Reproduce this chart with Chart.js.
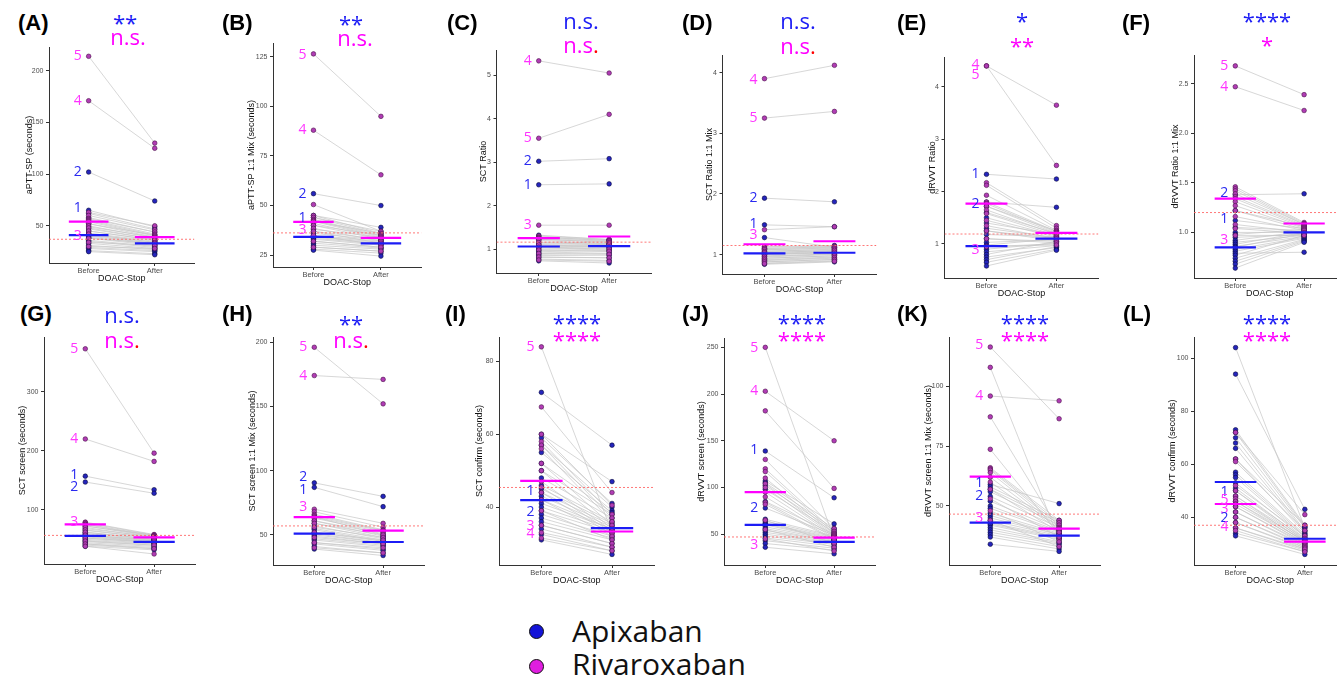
<!DOCTYPE html>
<html>
<head>
<meta charset="utf-8">
<script src="https://cdn.jsdelivr.net/npm/chart.js@4.4.1/dist/chart.umd.min.js"></script>
<style>
  html, body { margin: 0; padding: 0; background: #fff; }
  body { width: 1337px; height: 680px; position: relative; overflow: hidden; }
  canvas { position: absolute; }
  .tag { position: absolute; font: bold 22px 'Liberation Sans', Arial, sans-serif; line-height: 1; color: #000; }
  .sig { position: absolute; font: 22px 'Open Sans', sans-serif; line-height: 1; white-space: nowrap; transform: translateX(-50%); }
  .lg-dot { position: absolute; width: 13px; height: 13px; border-radius: 50%; border: 1.5px solid #111; }
  .lg-txt { position: absolute; font: 30px 'Open Sans', sans-serif; line-height: 1; color: #111; }
</style>
</head>
<body>
<script>
// ---- data (values at Before / After, per patient) ----

// (A) aPTT-SP
const A_apixBefore = [102, 65, 62, 58, 52, 49, 47, 45, 43, 42, 41, 40, 39, 38, 36, 35, 33, 31, 29, 28, 26, 25];
const A_apixAfter  = [74, 49, 47, 44, 41, 39, 37, 36, 35, 34, 33, 33, 32, 31, 30, 29, 28, 27, 26, 25, 23, 22];
const A_rivaBefore = [214, 171, 63, 60, 57, 56, 55, 54, 52, 50, 48, 45, 42, 38, 34, 30];
const A_rivaAfter  = [130, 125, 50, 46, 44, 42, 41, 40, 39, 38, 37, 36, 34, 33, 31, 28];
const A_medApix = [41, 33];
const A_medRiva = [54, 39];
const A_ref = 37;
const A_range = [14, 223];
const A_ticks = ['50', '100', '150', '200'];
const A_labels = [['5', 214, 'r'], ['4', 171, 'r'], ['2', 102, 'a'], ['1', 67, 'a'], ['3', 40, 'r']];
const A_sig = ['**', 'n.s.', false];

// (B) aPTT-SP 1:1 Mix
const B_apixBefore = [56, 45, 44, 42, 40, 38, 37, 36, 35, 34.5, 34, 33.5, 33, 32, 31, 30, 29, 28, 27.5];
const B_apixAfter  = [50, 39, 37, 36, 35, 34, 33, 32.5, 32, 31.5, 31, 30.5, 30, 29, 28.5, 28, 27, 26, 24.5];
const B_rivaBefore = [126.5, 88, 50.5, 45, 44, 43, 42.5, 42, 41, 40, 38.5, 37, 35, 32, 29];
const B_rivaAfter  = [95, 65.5, 37, 36, 35.5, 35, 34.5, 34, 33.5, 33, 32, 31, 30, 29, 27];
const B_medApix = [34.2, 30.9];
const B_medRiva = [41.8, 33.7];
const B_ref = 36.2;
const B_range = [19, 132];
const B_ticks = ['25', '50', '75', '100', '125'];
const B_labels = [['5', 126, 'r'], ['4', 88, 'r'], ['2', 56, 'a'], ['1', 43.5, 'a'], ['3', 37.5, 'r']];
const B_sig = ['**', 'n.s.', false];

// (C) SCT Ratio
const C_apixBefore = [3.02, 2.48, 1.32, 1.28, 1.22, 1.16, 1.12, 1.09, 1.07, 1.05, 1.03, 1.0, 0.97, 0.94, 0.91, 0.88, 0.85, 0.81, 0.77, 0.73];
const C_apixAfter  = [3.08, 2.5, 1.22, 1.2, 1.17, 1.14, 1.12, 1.1, 1.08, 1.07, 1.05, 1.03, 1.0, 0.97, 0.94, 0.9, 0.86, 0.8, 0.74, 0.68];
const C_rivaBefore = [5.33, 3.55, 1.55, 1.3, 1.27, 1.25, 1.23, 1.2, 1.15, 1.1, 1.04, 0.98, 0.9, 0.82, 0.75];
const C_rivaAfter  = [5.05, 4.1, 1.55, 1.22, 1.2, 1.18, 1.15, 1.12, 1.1, 1.05, 1.0, 0.95, 0.88, 0.8, 0.72];
const C_medApix = [1.06, 1.07];
const C_medRiva = [1.25, 1.29];
const C_ref = 1.16;
const C_range = [0.45, 5.58];
const C_ticks = ['1', '2', '3', '4', '5'];
const C_labels = [['4', 5.33, 'r'], ['5', 3.55, 'r'], ['2', 3.02, 'a'], ['1', 2.48, 'a'], ['3', 1.55, 'r']];
const C_sig = ['n.s.', 'n.s.', true];

// (D) SCT Ratio 1:1 Mix
const D_apixBefore = [1.93, 1.49, 1.28, 1.13, 1.1, 1.08, 1.06, 1.04, 1.02, 1.01, 1.0, 0.98, 0.96, 0.94, 0.92, 0.9, 0.88, 0.86, 0.84];
const D_apixAfter  = [1.87, 1.46, 1.12, 1.15, 1.12, 1.1, 1.08, 1.06, 1.05, 1.04, 1.03, 1.01, 1.0, 0.98, 0.96, 0.94, 0.92, 0.9, 0.88];
const D_rivaBefore = [3.9, 3.25, 1.41, 1.12, 1.1, 1.08, 1.05, 1.03, 1.0, 0.97, 0.94, 0.91, 0.88, 0.85];
const D_rivaAfter  = [4.12, 3.36, 1.46, 1.14, 1.13, 1.11, 1.09, 1.07, 1.04, 1.01, 0.98, 0.95, 0.92, 0.89];
const D_medApix = [1.02, 1.03];
const D_medRiva = [1.17, 1.22];
const D_ref = 1.15;
const D_range = [0.68, 4.29];
const D_ticks = ['1', '2', '3', '4'];
const D_labels = [['4', 3.88, 'r'], ['5', 3.25, 'r'], ['2', 1.93, 'a'], ['1', 1.5, 'a'], ['3', 1.33, 'r']];
const D_sig = ['n.s.', 'n.s.', true];

// (E) dRVVT Ratio
const E_apixBefore = [2.33, 1.8, 1.72, 1.6, 1.5, 1.4, 1.3, 1.25, 1.18, 1.1, 1.03, 0.98, 0.95, 0.9, 0.85, 0.8, 0.75, 0.7, 0.65, 0.58];
const E_apixAfter  = [2.24, 1.7, 1.25, 1.2, 1.15, 1.18, 1.12, 1.1, 1.14, 1.05, 1.08, 1.1, 1.0, 1.02, 0.97, 1.05, 0.93, 0.95, 0.9, 0.88];
const E_rivaBefore = [4.4, 4.4, 2.17, 2.12, 1.93, 1.8, 1.77, 1.72, 1.65, 1.58, 1.45, 1.35, 1.25, 1.1, 0.95];
const E_rivaAfter  = [3.65, 2.5, 1.35, 1.3, 1.26, 1.24, 1.22, 1.2, 1.18, 1.16, 1.13, 1.1, 1.06, 1.02, 0.98];
const E_medApix = [0.96, 1.1];
const E_medRiva = [1.77, 1.21];
const E_ref = 1.19;
const E_range = [0.35, 4.57];
const E_ticks = ['1', '2', '3', '4'];
const E_labels = [['4', 4.41, 'r'], ['5', 4.22, 'r'], ['1', 2.33, 'a'], ['2', 1.76, 'a'], ['3', 0.88, 'r']];
const E_sig = ['*', '**', false];

// (F) dRVVT Ratio 1:1 Mix
const F_apixBefore = [1.38, 1.22, 1.12, 1.05, 1.0, 0.98, 0.95, 0.92, 0.9, 0.88, 0.86, 0.85, 0.83, 0.81, 0.79, 0.77, 0.74, 0.71, 0.68, 0.64];
const F_apixAfter  = [1.39, 1.06, 1.04, 1.02, 1.0, 1.03, 0.98, 1.01, 0.97, 1.0, 0.96, 0.99, 0.95, 0.94, 0.8, 0.97, 0.93, 0.92, 0.91, 0.9];
const F_rivaBefore = [2.68, 2.47, 1.46, 1.44, 1.42, 1.39, 1.36, 1.34, 1.31, 1.27, 1.22, 1.16, 1.08, 1.04, 0.97];
const F_rivaAfter  = [2.39, 2.23, 1.1, 1.09, 1.08, 1.08, 1.07, 1.06, 1.05, 1.04, 1.03, 1.02, 1.0, 0.99, 0.97];
const F_medApix = [0.85, 1.0];
const F_medRiva = [1.34, 1.09];
const F_ref = 1.2;
const F_range = [0.54, 2.79];
const F_ticks = ['1.0', '1.5', '2.0', '2.5'];
const F_labels = [['5', 2.68, 'r'], ['4', 2.47, 'r'], ['2', 1.4, 'a'], ['1', 1.135, 'a'], ['3', 0.92, 'r']];
const F_sig = ['****', '*', false];

// (G) SCT screen
const G_apixBefore = [157, 147, 72, 68, 65, 62, 60, 58, 56, 55, 54, 52, 50, 48, 46, 44, 42, 40, 38];
const G_apixAfter  = [134, 128, 57, 54, 52, 50, 49, 48, 47, 46, 45, 44, 43, 42, 40, 38, 36, 34, 32];
const G_rivaBefore = [373, 220, 79, 78, 76, 75, 73, 70, 66, 62, 57, 52, 47, 42, 38];
const G_rivaAfter  = [196, 182, 58, 57, 56, 55, 54, 53, 52, 50, 48, 45, 40, 34, 25];
const G_medApix = [55.6, 45.4];
const G_medRiva = [75.2, 53.2];
const G_ref = 56.6;
const G_range = [8, 393];
const G_ticks = ['100', '200', '300'];
const G_labels = [['5', 372, 'r'], ['4', 220, 'r'], ['1', 159, 'a'], ['2', 138, 'a'], ['3', 80, 'r']];
const G_sig = ['n.s.', 'n.s.', true];

// (H) SCT screen 1:1 Mix
const H_apixBefore = [90.5, 87, 64, 61, 59, 57, 55, 54, 52, 51, 50, 49, 47, 46, 44, 43, 41, 39];
const H_apixAfter  = [80, 72, 50, 49, 48, 47, 46, 45, 45, 44, 44, 43, 42, 41, 39, 38, 36, 34];
const H_rivaBefore = [196, 174, 70, 68, 66, 65, 64, 63, 61, 59, 56, 52, 48, 44, 40];
const H_rivaAfter  = [152, 171, 59, 56, 54, 53.5, 53, 52, 51, 50, 48, 46, 43, 40, 36];
const H_medApix = [51, 44.5];
const H_medRiva = [63.8, 53.4];
const H_ref = 57;
const H_range = [26.6, 204];
const H_ticks = ['50', '100', '150', '200'];
const H_labels = [['5', 196, 'r'], ['4', 174, 'r'], ['2', 95, 'a'], ['1', 85, 'a'], ['3', 71.6, 'r']];
const H_sig = ['**', 'n.s.', true];

// (I) SCT confirm
const I_apixBefore = [71.5, 60, 59, 57, 55, 52, 50, 48, 46, 45, 44, 43, 42, 41, 40, 39, 38, 37, 36, 35, 34, 32.5, 31];
const I_apixAfter  = [57, 47, 41, 40, 39, 38.5, 38, 37, 36, 35.5, 35, 34.5, 34, 34, 33.5, 33, 32, 31.5, 31, 30, 29, 28, 27];
const I_rivaBefore = [84, 67.5, 60, 58, 57, 56, 52, 50, 47, 45.5, 44, 42, 39, 35, 33, 31.5];
const I_rivaAfter  = [33, 44, 40.5, 38, 37, 36, 35, 34, 33.5, 33, 32.5, 32, 31, 30, 29, 28];
const I_medApix = [41.9, 34.2];
const I_medRiva = [47.2, 33.3];
const I_ref = 45.4;
const I_range = [24.1, 86.7];
const I_ticks = ['40', '60', '80'];
const I_labels = [['5', 84, 'r'], ['1', 44.3, 'a'], ['2', 38.6, 'a'], ['3', 34.7, 'r'], ['4', 32.6, 'r']];
const I_sig = ['****', '****', false];

// (J) dRVVT screen
const J_apixBefore = [139, 107, 105, 102, 98, 85, 78, 66, 64, 62, 61, 60, 58, 56, 54, 52, 50, 48, 46, 43, 40, 36];
const J_apixAfter  = [89, 61, 56, 54, 52, 50, 49, 48, 47, 46, 45, 44, 43, 42, 42, 41, 40, 39, 37, 35, 33, 29];
const J_rivaBefore = [250, 203, 182, 130, 120, 117, 110, 104, 100, 95, 90, 84, 82, 65, 55, 45];
const J_rivaAfter  = [45, 150, 99, 56, 53, 51, 50, 49, 48, 47, 46, 45, 44, 40, 36, 32];
const J_medApix = [60, 41.8];
const J_medRiva = [95, 46.4];
const J_ref = 47;
const J_range = [17, 260];
const J_ticks = ['50', '100', '150', '200', '250'];
const J_labels = [['5', 249.5, 'r'], ['4', 203, 'r'], ['1', 139.6, 'a'], ['2', 78.5, 'a'], ['3', 38.5, 'r']];
const J_sig = ['****', '****', false];

// (K) dRVVT screen 1:1 Mix
const K_apixBefore = [59, 58, 57, 56, 54, 52, 50, 49, 47, 46, 45, 44, 43, 42.5, 42, 41, 40, 39, 38, 37, 34];
const K_apixAfter  = [51, 44, 43, 42, 41, 40, 39.5, 39, 38.5, 38, 38, 37.5, 37, 36.5, 36, 35, 34.5, 34, 33, 32, 31];
const K_rivaBefore = [116.5, 108, 96, 87.3, 73.7, 66, 65.5, 65, 64, 62, 60, 57, 53, 48, 44];
const K_rivaAfter  = [86.5, 36, 94, 40, 38, 44, 43, 42, 41, 40.5, 40, 39, 37, 35, 33];
const K_medApix = [43, 37.6];
const K_medRiva = [62.3, 40.5];
const K_ref = 46.6;
const K_range = [25.3, 120.7];
const K_ticks = ['50', '75', '100'];
const K_labels = [['5', 117.2, 'r'], ['4', 96.1, 'r'], ['1', 59.8, 'a'], ['2', 54.2, 'a'], ['3', 44.8, 'r']];
const K_sig = ['****', '****', false];

// (L) dRVVT confirm
const L_apixBefore = [104, 94, 73, 72, 70, 68, 66, 62, 57, 56, 55, 53, 51, 50, 48, 46, 44, 42, 40, 38, 36, 34, 33];
const L_apixAfter  = [36, 43, 37, 36.5, 36, 35, 34.5, 34, 33.5, 33, 32.5, 32, 31.5, 31, 30.5, 30, 29.5, 29, 28.5, 28, 27.5, 27, 26];
const L_rivaBefore = [72, 62, 61, 52, 50, 48, 47, 46, 45, 44, 42, 40, 38, 36, 35];
const L_rivaAfter  = [41, 37, 35, 33, 32, 31.5, 31, 31, 30.5, 30, 29.5, 29, 28.5, 28, 27];
const L_medApix = [53.3, 31.9];
const L_medRiva = [45, 30.8];
const L_ref = 37;
const L_range = [22, 108];
const L_ticks = ['40', '60', '80', '100'];
const L_labels = [['1', 49.7, 'a'], ['5', 46.5, 'r'], ['3', 43, 'r'], ['2', 39.6, 'a'], ['4', 36.5, 'r']];
const L_sig = ['****', '****', false];

const xLabels = ['Before', 'After'];
const xTitle = 'DOAC-Stop';
const legendNames = ['Apixaban', 'Rivaroxaban'];

// ---- styling ----
const C = {
  apixDot: '#2525bc',
  apixRim: '#0a0a3c',
  rivaDot: '#b03cb4',
  rivaRim: '#4a104a',
  apix: '#1c1cf5',
  riva: '#ff00ff',
  pair: '#c6c6c6',
  ref: '#ff6a6a',
  axis: '#333333',
  tick: '#4d4d4d',
};
const AX_FONT = "'Liberation Sans', Arial, sans-serif";
const PT = 10;  // top padding inside canvas
const PR = 2;   // right padding inside canvas
const XH = 21;  // height of x axis block

// layout: [axis x, plot top, plot right, plot bottom], y axis block width,
// panel letter position, significance centres
const panels = [
  { tag: 'A', title: 'aPTT-SP (seconds)', p: 'A', box: [49, 47, 197, 263], yw: 25, tagXY: [18, 12], sigXY: [125, 18, 128, 38.5] },
  { tag: 'B', title: 'aPTT-SP 1:1 Mix (seconds)', p: 'B', box: [273, 43, 424, 267], yw: 27, tagXY: [222, 12], sigXY: [351, 19, 355, 40] },
  { tag: 'C', title: 'SCT Ratio', p: 'C', box: [496, 50, 653, 273], yw: 18.5, tagXY: [447, 12], sigXY: [581, 23, 581, 47] },
  { tag: 'D', title: 'SCT Ratio 1:1 Mix', p: 'D', box: [722, 55, 878, 274], yw: 18.5, tagXY: [682, 12], sigXY: [798, 23, 798, 48] },
  { tag: 'E', title: 'dRVVT Ratio', p: 'E', box: [944, 57, 1100, 278], yw: 17.5, tagXY: [897, 12], sigXY: [1022, 16, 1022, 41] },
  { tag: 'F', title: 'dRVVT Ratio 1:1 Mix', p: 'F', box: [1194, 55, 1348, 278], yw: 24, tagXY: [1122, 12], sigXY: [1267, 16, 1267, 40] },
  { tag: 'G', title: 'SCT screen (seconds)', p: 'G', box: [44, 337, 198, 564], yw: 27, tagXY: [20, 303], sigXY: [122, 317, 122, 342] },
  { tag: 'H', title: 'SCT screen 1:1 Mix (seconds)', p: 'H', box: [273, 337, 427, 565], yw: 26, tagXY: [222, 303], sigXY: [351, 319, 351, 342] },
  { tag: 'I', title: 'SCT confirm (seconds)', p: 'I', box: [499, 337, 657, 565], yw: 25, tagXY: [445, 303], sigXY: [577, 318, 577, 335] },
  { tag: 'J', title: 'dRVVT screen (seconds)', p: 'J', box: [724, 338, 878, 565], yw: 28, tagXY: [682, 303], sigXY: [802, 318, 802, 335] },
  { tag: 'K', title: 'dRVVT screen 1:1 Mix (seconds)', p: 'K', box: [949, 337, 1103, 565], yw: 26, tagXY: [897, 303], sigXY: [1025, 318, 1025, 335] },
  { tag: 'L', title: 'dRVVT confirm (seconds)', p: 'L', box: [1194, 337, 1349, 565], yw: 27, tagXY: [1123, 303], sigXY: [1267, 318, 1267, 335] },
];

const DATA = {
  A: [A_apixBefore, A_apixAfter, A_rivaBefore, A_rivaAfter, A_medApix, A_medRiva, A_ref, A_range, A_ticks, A_labels, A_sig],
  B: [B_apixBefore, B_apixAfter, B_rivaBefore, B_rivaAfter, B_medApix, B_medRiva, B_ref, B_range, B_ticks, B_labels, B_sig],
  C: [C_apixBefore, C_apixAfter, C_rivaBefore, C_rivaAfter, C_medApix, C_medRiva, C_ref, C_range, C_ticks, C_labels, C_sig],
  D: [D_apixBefore, D_apixAfter, D_rivaBefore, D_rivaAfter, D_medApix, D_medRiva, D_ref, D_range, D_ticks, D_labels, D_sig],
  E: [E_apixBefore, E_apixAfter, E_rivaBefore, E_rivaAfter, E_medApix, E_medRiva, E_ref, E_range, E_ticks, E_labels, E_sig],
  F: [F_apixBefore, F_apixAfter, F_rivaBefore, F_rivaAfter, F_medApix, F_medRiva, F_ref, F_range, F_ticks, F_labels, F_sig],
  G: [G_apixBefore, G_apixAfter, G_rivaBefore, G_rivaAfter, G_medApix, G_medRiva, G_ref, G_range, G_ticks, G_labels, G_sig],
  H: [H_apixBefore, H_apixAfter, H_rivaBefore, H_rivaAfter, H_medApix, H_medRiva, H_ref, H_range, H_ticks, H_labels, H_sig],
  I: [I_apixBefore, I_apixAfter, I_rivaBefore, I_rivaAfter, I_medApix, I_medRiva, I_ref, I_range, I_ticks, I_labels, I_sig],
  J: [J_apixBefore, J_apixAfter, J_rivaBefore, J_rivaAfter, J_medApix, J_medRiva, J_ref, J_range, J_ticks, J_labels, J_sig],
  K: [K_apixBefore, K_apixAfter, K_rivaBefore, K_rivaAfter, K_medApix, K_medRiva, K_ref, K_range, K_ticks, K_labels, K_sig],
  L: [L_apixBefore, L_apixAfter, L_rivaBefore, L_rivaAfter, L_medApix, L_medRiva, L_ref, L_range, L_ticks, L_labels, L_sig],
};

// ---- helpers ----
function pairLines(before, after) {
  const pts = [];
  before.forEach((b, i) => {
    pts.push({ x: 1, y: b }, { x: 2, y: after[i] }, { x: 1.5, y: null });
  });
  return pts;
}

function column(before, after) {
  return before.map((v) => ({ x: 1, y: v })).concat(after.map((v) => ({ x: 2, y: v })));
}

function medianBars(m) {
  return [{ x: 0.7, y: m[0] }, { x: 1.3, y: m[0] }, { x: 1.5, y: null }, { x: 1.7, y: m[1] }, { x: 2.3, y: m[1] }];
}

const numberLabels = {
  id: 'numberLabels',
  afterDatasetsDraw(chart, args, opts) {
    const { ctx, scales: { x, y } } = chart;
    ctx.save();
    ctx.font = "14px 'Open Sans', sans-serif";
    ctx.textAlign = 'right';
    ctx.textBaseline = 'middle';
    (opts.items || []).forEach(([txt, v, drug]) => {
      ctx.fillStyle = drug === 'a' ? '#2a2af0' : '#ff33ff';
      ctx.fillText(txt, x.getPixelForValue(1) - 7, y.getPixelForValue(v));
    });
    ctx.restore();
  },
};

function addDiv(cls, html, left, top, style) {
  const d = document.createElement('div');
  d.className = cls;
  d.innerHTML = html;
  d.style.left = left + 'px';
  d.style.top = top + 'px';
  if (style) Object.assign(d.style, style);
  document.body.appendChild(d);
  return d;
}

function sigHtml(txt, redDot) {
  if (redDot && txt.endsWith('.')) return txt.slice(0, -1) + '<span style="color:#ff0000">.</span>';
  return txt;
}

function drawPanel(pn) {
  const [apixB, apixA, rivaB, rivaA, medA, medR, ref, range, ticks, labels, sig] = DATA[pn.p];
  const [axisX, top, right, bottom] = pn.box;
  const W = Math.round(right - axisX + pn.yw + PR);
  const H = Math.round(bottom - top + PT + XH);

  const canvas = document.createElement('canvas');
  canvas.width = W;
  canvas.height = H;
  canvas.style.left = (axisX - pn.yw) + 'px';
  canvas.style.top = (top - PT) + 'px';
  canvas.style.width = W + 'px';
  canvas.style.height = H + 'px';
  document.body.appendChild(canvas);

  const tickVals = ticks.map((t) => parseFloat(t));

  new Chart(canvas.getContext('2d'), {
    type: 'scatter',
    data: {
      datasets: [
        { data: medianBars(medA), showLine: true, borderColor: C.apix, borderWidth: 2.2, pointRadius: 0, order: 0 },
        { data: medianBars(medR), showLine: true, borderColor: C.riva, borderWidth: 2.2, pointRadius: 0, order: 0 },
        { data: [{ x: 0.4, y: ref }, { x: 2.6, y: ref }], showLine: true, borderColor: C.ref, borderWidth: 0.9, borderDash: [2, 2], pointRadius: 0, order: 1 },
        { data: column(rivaB, rivaA), pointRadius: 2.3, pointBackgroundColor: C.rivaDot, pointBorderColor: C.rivaRim, pointBorderWidth: 0.6, order: 2 },
        { data: column(apixB, apixA), pointRadius: 2.3, pointBackgroundColor: C.apixDot, pointBorderColor: C.apixRim, pointBorderWidth: 0.6, order: 3 },
        { data: pairLines(apixB.concat(rivaB), apixA.concat(rivaA)), showLine: true, spanGaps: false, borderColor: C.pair, borderWidth: 0.7, pointRadius: 0, order: 4 },
      ],
    },
    options: {
      responsive: false,
      animation: false,
      layout: { padding: { top: PT, right: PR, left: 0, bottom: 0 } },
      plugins: {
        legend: { display: false },
        tooltip: { enabled: false },
        numberLabels: { items: labels },
      },
      scales: {
        x: {
          type: 'linear',
          min: 0.4,
          max: 2.6,
          afterBuildTicks: (s) => { s.ticks = [{ value: 1 }, { value: 2 }]; },
          afterFit: (s) => { s.height = XH; },
          ticks: {
            callback: (v) => xLabels[Math.round(v) - 1],
            font: { size: 7.5, family: AX_FONT },
            color: C.tick,
            padding: 0,
            maxRotation: 0,
            autoSkip: false,
          },
          grid: { drawOnChartArea: false, tickLength: 3, color: C.axis },
          border: { color: C.axis, width: 1 },
          title: { display: true, text: xTitle, font: { size: 9, family: AX_FONT }, color: '#111', padding: 0 },
        },
        y: {
          type: 'linear',
          min: range[0],
          max: range[1],
          afterBuildTicks: (s) => { s.ticks = tickVals.map((v) => ({ value: v })); },
          afterFit: (s) => { s.width = pn.yw; },
          ticks: {
            callback: (v, i) => ticks[i],
            font: { size: 7, family: AX_FONT },
            color: C.tick,
            padding: 2.5,
            autoSkip: false,
          },
          grid: { drawOnChartArea: false, tickLength: 3, color: C.axis },
          border: { color: C.axis, width: 1 },
          title: { display: true, text: pn.title, font: { size: 9, family: AX_FONT }, color: '#111', padding: 0 },
        },
      },
    },
    plugins: [numberLabels],
  });

  addDiv('tag', '(' + pn.tag + ')', pn.tagXY[0], pn.tagXY[1]);
  const [bx, by, mx, my] = pn.sigXY;
  const starOff = (t) => (t.indexOf('*') >= 0 ? 6.6 : 13.6);
  addDiv('sig', sigHtml(sig[0], false), bx, by - starOff(sig[0]), { color: C.apix });
  addDiv('sig', sigHtml(sig[1], sig[2]), mx, my - starOff(sig[1]), { color: C.riva });
}

panels.forEach(drawPanel);

// legend
addDiv('lg-dot', '', 529, 624, { background: '#1414d8' });
addDiv('lg-txt', legendNames[0], 572, 616);
addDiv('lg-dot', '', 529, 659, { background: '#e01ee0' });
addDiv('lg-txt', legendNames[1], 572, 649);
</script>
</body>
</html>
